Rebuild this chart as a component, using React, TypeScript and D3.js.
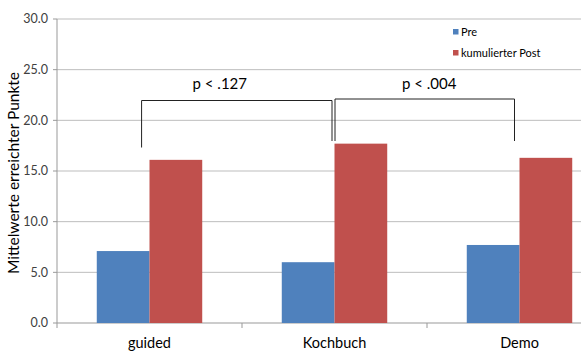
import React from "react";
import * as d3 from "d3";

const categories = ["guided", "Kochbuch", "Demo"];
const preValues = [7.1, 6.0, 7.7];
const postValues = [16.1, 17.7, 16.3];
const seriesNames = ["Pre", "kumulierter Post"];
const yTicks = [0, 5, 10, 15, 20, 25, 30];
const comparisons = [
  { from: "guided", to: "Kochbuch", label: "p < .127" },
  { from: "Kochbuch", to: "Demo", label: "p < .004" },
];

const W = 581;
const H = 352;
const colors = ["#4F81BD", "#C0504D"];
const font = "Lato, 'Open Sans', sans-serif";

export default function App() {
  const left = 57;
  const plotRight = 612; // plot area runs past the visible edge
  const top = 19;
  const bottom = 323;

  const x = d3.scaleBand<string>().domain(categories).range([left, plotRight]).paddingInner(0).paddingOuter(0);
  const y = d3.scaleLinear().domain([0, 30]).range([bottom, top]);
  const barW = x.bandwidth() * 0.285;
  const center = (c: string) => (x(c) ?? 0) + x.bandwidth() / 2;

  const series = [preValues, postValues];

  return (
    <svg width={W} height={H} style={{ position: "absolute", left: 0, top: 0, background: "#fff" }}>
      {/* gridlines */}
      {yTicks.map((t) => (
        <g key={t}>
          {t > 0 && <line x1={left} x2={W} y1={y(t)} y2={y(t)} stroke="#bdbdbd" strokeWidth={1} />}
          <line x1={left - 4} x2={left} y1={y(t)} y2={y(t)} stroke="#999" strokeWidth={1} />
          <text x={48} y={y(t)} dy="0.35em" textAnchor="end" fontFamily={font} fontSize={12.5} fill="#404040">
            {d3.format(".1f")(t)}
          </text>
        </g>
      ))}
      {/* axes */}
      <line x1={left} x2={left} y1={top} y2={bottom} stroke="#999" />
      <line x1={left} x2={W} y1={bottom} y2={bottom} stroke="#999" />
      {categories.map((c) => (
        <line key={c} x1={x(c)} x2={x(c)} y1={bottom} y2={bottom + 5} stroke="#999" />
      ))}
      {/* bars */}
      {categories.map((c, i) =>
        series.map((vals, s) => (
          <rect
            key={c + s}
            x={center(c) - barW + s * barW}
            y={y(vals[i])}
            width={barW}
            height={bottom - y(vals[i])}
            fill={colors[s]}
          />
        ))
      )}
      {/* category labels */}
      {categories.map((c) => (
        <text key={c} x={center(c)} y={348} textAnchor="middle" fontFamily={font} fontSize={14.5} fill="#000">
          {c}
        </text>
      ))}
      {/* y title */}
      <text
        transform={`translate(19,173) rotate(-90)`}
        textAnchor="middle"
        fontFamily={font}
        fontSize={15.5}
        fill="#000"
      >
        Mittelwerte erreichter Punkte
      </text>
      {/* significance brackets */}
      {comparisons.map((cmp, i) => {
        const x1 = i === 0 ? center(cmp.from) - barW * 0.15 : center(cmp.from) + 0.5;
        const x2 = i === 0 ? center(cmp.to) - 2.5 : center(cmp.to) - 5;
        const yTop = i === 0 ? 100.5 : 99;
        const yL = i === 0 ? 147.5 : 141;
        const yR = 141;
        return (
          <g key={cmp.label}>
            <path
              d={`M${x1},${yL} L${x1},${yTop} L${x2},${yTop} L${x2},${yR}`}
              fill="none"
              stroke="#222"
              strokeWidth={1}
            />
            <text x={(x1 + x2) / 2 + (i === 0 ? -17 : 4.5)} y={89} textAnchor="middle" fontFamily={font} fontSize={15} fill="#000">
              {cmp.label}
            </text>
          </g>
        );
      })}
      {/* legend */}
      {seriesNames.map((n, i) => (
        <g key={n} transform={`translate(453,${29 + i * 21})`}>
          <rect x={0} y={0} width={5.5} height={5.5} fill={colors[i]} />
          <text x={8} y={3} dy="0.35em" fontFamily={font} fontSize={11} fill="#000">
            {n}
          </text>
        </g>
      ))}
    </svg>
  );
}
